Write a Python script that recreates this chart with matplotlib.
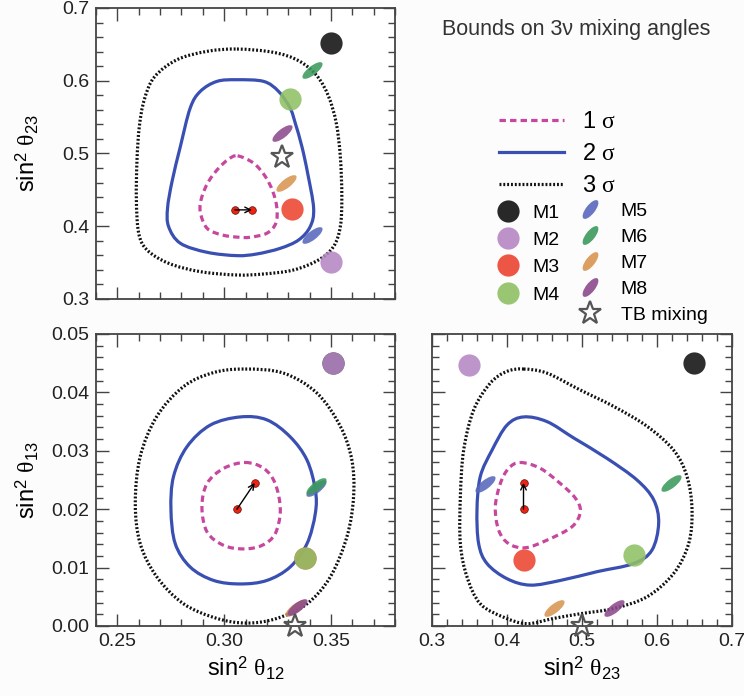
import numpy as np
import matplotlib
matplotlib.use('Agg')
import matplotlib.pyplot as plt
from matplotlib.path import Path
from matplotlib.patches import PathPatch
from matplotlib.transforms import Affine2D
from matplotlib.lines import Line2D
from matplotlib.ticker import MultipleLocator, FixedLocator, FormatStrFormatter

plt.rcParams['font.family'] = ['Liberation Sans', 'DejaVu Sans']
plt.rcParams['mathtext.fontset'] = 'custom'
plt.rcParams['mathtext.rm'] = 'Liberation Sans'
plt.rcParams['mathtext.it'] = 'Liberation Serif'
plt.rcParams['mathtext.bf'] = 'Liberation Sans:bold'

# modelos
models = ['M1', 'M2', 'M3', 'M4', 'M5', 'M6', 'M7', 'M8']
model_colors = ['#111111', '#b587c3', '#ec4430', '#8fc165', '#5868bd', '#3c9a5c', '#d99550', '#8c4a8c']
model_round = [True, True, True, True, False, False, False, False]

tl_s12 = [0.350, 0.350, 0.332, 0.331, 0.341, 0.341, 0.329, 0.327]
tl_s23 = [0.652, 0.351, 0.424, 0.575, 0.388, 0.615, 0.459, 0.528]
bl_s12 = [0.351, 0.351, 0.338, 0.338, 0.343, 0.343, 0.333, 0.334]
bl_s13 = [0.0450, 0.0450, 0.0116, 0.0116, 0.0237, 0.0240, 0.0030, 0.0033]
br_s23 = [0.649, 0.349, 0.422, 0.569, 0.371, 0.618, 0.463, 0.542]
br_s13 = [0.0450, 0.0447, 0.0113, 0.0121, 0.0243, 0.0245, 0.0030, 0.0030]

# mezcla TB
tb_tl = (0.327, 0.495)
tb_bl = (0.333, 0.0)
tb_br = (0.500, 0.0)

# mejor ajuste (antes -> despues)
tl_bf_s12 = [0.305, 0.313]
tl_bf_s23 = [0.4225, 0.4225]
bl_bf_s12 = [0.306, 0.3143]
bl_bf_s13 = [0.0200, 0.0245]
br_bf_s23 = [0.422, 0.422]
br_bf_s13 = [0.0200, 0.0245]

# contornos panel superior (s12, s23)
tl_1s_x = [0.3063, 0.3138, 0.3193, 0.3228, 0.3247, 0.3242, 0.3200, 0.3122, 0.3068, 0.2990, 0.2920, 0.2888, 0.2896, 0.2927, 0.2974, 0.3021]
tl_1s_y = [0.4968, 0.4867, 0.4683, 0.4477, 0.4248, 0.4041, 0.3904, 0.3849, 0.3849, 0.3881, 0.3972, 0.4202, 0.4408, 0.4615, 0.4798, 0.4922]
tl_2s_x = [0.3060, 0.3185, 0.3255, 0.3309, 0.3333, 0.3364, 0.3391, 0.3419, 0.3403, 0.3349, 0.3263, 0.3153, 0.3060, 0.2920, 0.2795, 0.2740, 0.2735, 0.2756, 0.2795, 0.2841, 0.2888, 0.2966]
tl_2s_y = [0.6014, 0.5991, 0.5853, 0.5624, 0.5417, 0.5096, 0.4729, 0.4248, 0.3995, 0.3812, 0.3697, 0.3619, 0.3596, 0.3642, 0.3766, 0.3995, 0.4248, 0.4615, 0.5096, 0.5624, 0.5853, 0.5991]
tl_3s_x = [0.3060, 0.3232, 0.3349, 0.3434, 0.3489, 0.3525, 0.3544, 0.3551, 0.3544, 0.3512, 0.3442, 0.3325, 0.3185, 0.3060, 0.2888, 0.2740, 0.2639, 0.2600, 0.2589, 0.2592, 0.2603, 0.2626, 0.2673, 0.2779, 0.2920]
tl_3s_y = [0.6436, 0.6390, 0.6275, 0.6069, 0.5784, 0.5417, 0.4959, 0.4408, 0.3995, 0.3720, 0.3537, 0.3399, 0.3344, 0.3330, 0.3376, 0.3491, 0.3674, 0.3904, 0.4362, 0.4913, 0.5372, 0.5739, 0.6050, 0.6289, 0.6404]

# contornos panel inferior izquierdo (s12, s13)
bl_1s_x = [0.3099, 0.3185, 0.3239, 0.3263, 0.3239, 0.3177, 0.3091, 0.2998, 0.2920, 0.2896, 0.2920, 0.2998]
bl_1s_y = [0.0280, 0.0270, 0.0244, 0.0199, 0.0158, 0.0138, 0.0132, 0.0138, 0.0161, 0.0204, 0.0244, 0.0270]
bl_2s_x = [0.3076, 0.3200, 0.3309, 0.3388, 0.3427, 0.3427, 0.3388, 0.3309, 0.3200, 0.3076, 0.2951, 0.2841, 0.2771, 0.2751, 0.2763, 0.2826, 0.2935]
bl_2s_y = [0.0358, 0.0353, 0.0324, 0.0284, 0.0233, 0.0193, 0.0141, 0.0101, 0.0078, 0.0072, 0.0078, 0.0101, 0.0141, 0.0199, 0.0256, 0.0307, 0.0344]
bl_3s_x = [0.3099, 0.3278, 0.3434, 0.3544, 0.3598, 0.3606, 0.3575, 0.3497, 0.3388, 0.3247, 0.3107, 0.2966, 0.2810, 0.2685, 0.2607, 0.2584, 0.2607, 0.2685, 0.2810, 0.2951]
bl_3s_y = [0.0440, 0.0433, 0.0399, 0.0342, 0.0284, 0.0221, 0.0153, 0.0084, 0.0038, 0.0013, 0.0005, 0.0013, 0.0038, 0.0084, 0.0141, 0.0210, 0.0290, 0.0359, 0.0410, 0.0434]

# contornos panel inferior derecho (s23, s13)
br_1s_x = [0.4178, 0.4444, 0.4711, 0.4911, 0.4978, 0.4867, 0.4533, 0.4244, 0.4022, 0.3889, 0.3844, 0.3911, 0.4022]
br_1s_y = [0.0280, 0.0270, 0.0244, 0.0219, 0.0196, 0.0170, 0.0147, 0.0134, 0.0141, 0.0164, 0.0204, 0.0244, 0.0270]
br_2s_x = [0.4222, 0.4533, 0.4889, 0.5333, 0.5733, 0.5956, 0.6022, 0.5933, 0.5689, 0.5200, 0.4711, 0.4311, 0.4000, 0.3733, 0.3622, 0.3600, 0.3644, 0.3800, 0.4000]
br_2s_y = [0.0358, 0.0350, 0.0322, 0.0287, 0.0250, 0.0216, 0.0176, 0.0130, 0.0107, 0.0093, 0.0078, 0.0070, 0.0081, 0.0107, 0.0141, 0.0199, 0.0256, 0.0301, 0.0344]
br_3s_x = [0.4222, 0.4533, 0.4978, 0.5422, 0.5867, 0.6222, 0.6400, 0.6467, 0.6422, 0.6222, 0.5867, 0.5422, 0.4978, 0.4622, 0.4267, 0.3956, 0.3644, 0.3467, 0.3378, 0.3378, 0.3422, 0.3556, 0.3778, 0.4000]
br_3s_y = [0.0440, 0.0433, 0.0404, 0.0376, 0.0342, 0.0301, 0.0256, 0.0199, 0.0141, 0.0090, 0.0050, 0.0030, 0.0021, 0.0013, 0.0004, 0.0015, 0.0038, 0.0084, 0.0141, 0.0221, 0.0301, 0.0370, 0.0416, 0.0436]

sigma_styles = [
    dict(color='#c7479f', lw=2.3, ls=(0, (2.0, 1.3))),
    dict(color='#3a4fb2', lw=2.3, ls='-'),
    dict(color='#111111', lw=2.3, ls=(0, (0.6, 0.6))),
]

ellipse = Path.unit_circle().transformed(Affine2D().scale(1, 0.36).rotate_deg(38))
ellipse_leg = Path.unit_circle().transformed(Affine2D().scale(1, 0.4).rotate_deg(52))


def smooth_closed(xs, ys):
    # curva cerrada suave (bezier) que pasa por los puntos leidos
    P = np.column_stack([xs, ys])
    n = len(P)
    verts = [P[0]]
    codes = [Path.MOVETO]
    for i in range(n):
        p0, p1, p2, p3 = P[i - 1], P[i], P[(i + 1) % n], P[(i + 2) % n]
        verts += [p1 + (p2 - p0) / 6, p2 - (p3 - p1) / 6, p2]
        codes += [Path.CURVE4] * 3
    return Path(verts, codes)


def draw_panel(ax, contours, xs, ys, tb, bfx, bfy):
    for (cx, cy), st in zip(contours, sigma_styles):
        ax.add_patch(PathPatch(smooth_closed(cx, cy), fill=False, ec=st['color'], lw=st['lw'],
                               ls=st['ls'], zorder=2, capstyle='butt'))
    for i, m in enumerate(models):
        if model_round[i]:
            ax.plot(xs[i], ys[i], 'o', ms=16, color=model_colors[i], mec='none', alpha=0.88, zorder=3)
        else:
            ax.plot(xs[i], ys[i], marker=ellipse, ms=15, color=model_colors[i], mec='none', alpha=0.88, zorder=3)
    ax.plot(tb[0], tb[1], marker='*', ms=17, mfc='none', mec='#555555', mew=1.6, zorder=4, clip_on=False)
    ax.plot(bfx, bfy, 'o', ms=5.5, color='#ee2211', mec='#551111', mew=0.5, zorder=5)
    ax.annotate('', xy=(bfx[1], bfy[1]), xytext=(bfx[0], bfy[0]),
                arrowprops=dict(arrowstyle='->', color='black', lw=1.0, shrinkA=0, shrinkB=0), zorder=6)


fig = plt.figure(figsize=(7.44, 6.96), dpi=100)
fig.patch.set_facecolor('#fcfcfc')

ax_tl = fig.add_axes([96 / 744, 1 - 299 / 696, 299 / 744, 291 / 696])
ax_bl = fig.add_axes([96 / 744, 1 - 626 / 696, 299 / 744, 292 / 696])
ax_br = fig.add_axes([432 / 744, 1 - 626 / 696, 300 / 744, 292 / 696])

draw_panel(ax_tl, [(tl_1s_x, tl_1s_y), (tl_2s_x, tl_2s_y), (tl_3s_x, tl_3s_y)], tl_s12, tl_s23, tb_tl, tl_bf_s12, tl_bf_s23)
draw_panel(ax_bl, [(bl_1s_x, bl_1s_y), (bl_2s_x, bl_2s_y), (bl_3s_x, bl_3s_y)], bl_s12, bl_s13, tb_bl, bl_bf_s12, bl_bf_s13)
draw_panel(ax_br, [(br_1s_x, br_1s_y), (br_2s_x, br_2s_y), (br_3s_x, br_3s_y)], br_s23, br_s13, tb_br, br_bf_s23, br_bf_s13)

for ax in [ax_tl, ax_bl]:
    ax.set_xlim(0.24, 0.38)
    ax.xaxis.set_major_locator(FixedLocator([0.25, 0.30, 0.35]))
    ax.xaxis.set_minor_locator(MultipleLocator(0.01))
    ax.xaxis.set_major_formatter(FormatStrFormatter('%.2f'))
ax_tl.set_ylim(0.3, 0.7)
ax_tl.yaxis.set_major_locator(MultipleLocator(0.1))
ax_tl.yaxis.set_minor_locator(MultipleLocator(0.02))
ax_tl.yaxis.set_major_formatter(FormatStrFormatter('%.1f'))
ax_tl.tick_params(labelbottom=False)

for ax in [ax_bl, ax_br]:
    ax.set_ylim(0.0, 0.05)
    ax.yaxis.set_major_locator(MultipleLocator(0.01))
    ax.yaxis.set_minor_locator(MultipleLocator(0.002))
    ax.yaxis.set_major_formatter(FormatStrFormatter('%.2f'))
ax_br.set_xlim(0.3, 0.7)
ax_br.xaxis.set_major_locator(MultipleLocator(0.1))
ax_br.xaxis.set_minor_locator(MultipleLocator(0.02))
ax_br.xaxis.set_major_formatter(FormatStrFormatter('%.1f'))
ax_br.tick_params(labelleft=False)

for ax in [ax_tl, ax_bl, ax_br]:
    ax.tick_params(which='both', direction='in', top=True, right=True, width=1.0, color='#444444')
    ax.tick_params(which='major', length=9, labelsize=14, pad=5, labelcolor='#222222')
    ax.tick_params(which='minor', length=5)
    for sp in ax.spines.values():
        sp.set_linewidth(1.3)
        sp.set_color('#444444')

ax_tl.set_ylabel(r'sin$^2$ $\theta_{\mathrm{23}}$', fontsize=17)
ax_tl.yaxis.set_label_coords(-0.185, 0.5)
ax_bl.set_ylabel(r'sin$^2$ $\theta_{\mathrm{13}}$', fontsize=17)
ax_bl.yaxis.set_label_coords(-0.185, 0.5)
ax_bl.set_xlabel(r'sin$^2$ $\theta_{\mathrm{12}}$', fontsize=17)
ax_bl.xaxis.set_label_coords(0.5, -0.1)
ax_br.set_xlabel(r'sin$^2$ $\theta_{\mathrm{23}}$', fontsize=17)
ax_br.xaxis.set_label_coords(0.5, -0.1)

fig.text(442 / 744, 1 - 29 / 696, 'Bounds on 3ν mixing angles', fontsize=15.5, color='#333333', va='center')

# leyendas
sig_handles = [Line2D([], [], color=st['color'], lw=st['lw'], ls=st['ls']) for st in sigma_styles]
fig.legend(sig_handles, [r'1 $\sigma$', r'2 $\sigma$', r'3 $\sigma$'], loc='upper left',
           bbox_to_anchor=(499 / 744, 1 - 111 / 696), frameon=False, fontsize=17,
           handlelength=2.75, handletextpad=0.75, labelspacing=0.42, borderpad=0, borderaxespad=0)

round_handles = [Line2D([], [], ls='none', marker='o', ms=16, color=model_colors[i], mec='none', alpha=0.9)
                 for i in range(4)]
fig.legend(round_handles, models[:4], loc='upper left', bbox_to_anchor=(498 / 744, 1 - 204 / 696),
           frameon=False, fontsize=14, handlelength=1.0, handletextpad=0.75, labelspacing=0.5,
           borderpad=0, borderaxespad=0)

ell_handles = [Line2D([], [], ls='none', marker=ellipse_leg, ms=14, color=model_colors[i], mec='none', alpha=0.9)
               for i in range(4, 8)]
ell_handles.append(Line2D([], [], ls='none', marker='*', ms=17, mfc='none', mec='#555555', mew=1.6))
fig.legend(ell_handles, models[4:] + ['TB mixing'], loc='upper left', bbox_to_anchor=(580 / 744, 1 - 202 / 696),
           frameon=False, fontsize=14, handlelength=1.0, handletextpad=1.1, labelspacing=0.43,
           borderpad=0, borderaxespad=0)

fig.savefig('out.png', dpi=100, facecolor=fig.get_facecolor())
